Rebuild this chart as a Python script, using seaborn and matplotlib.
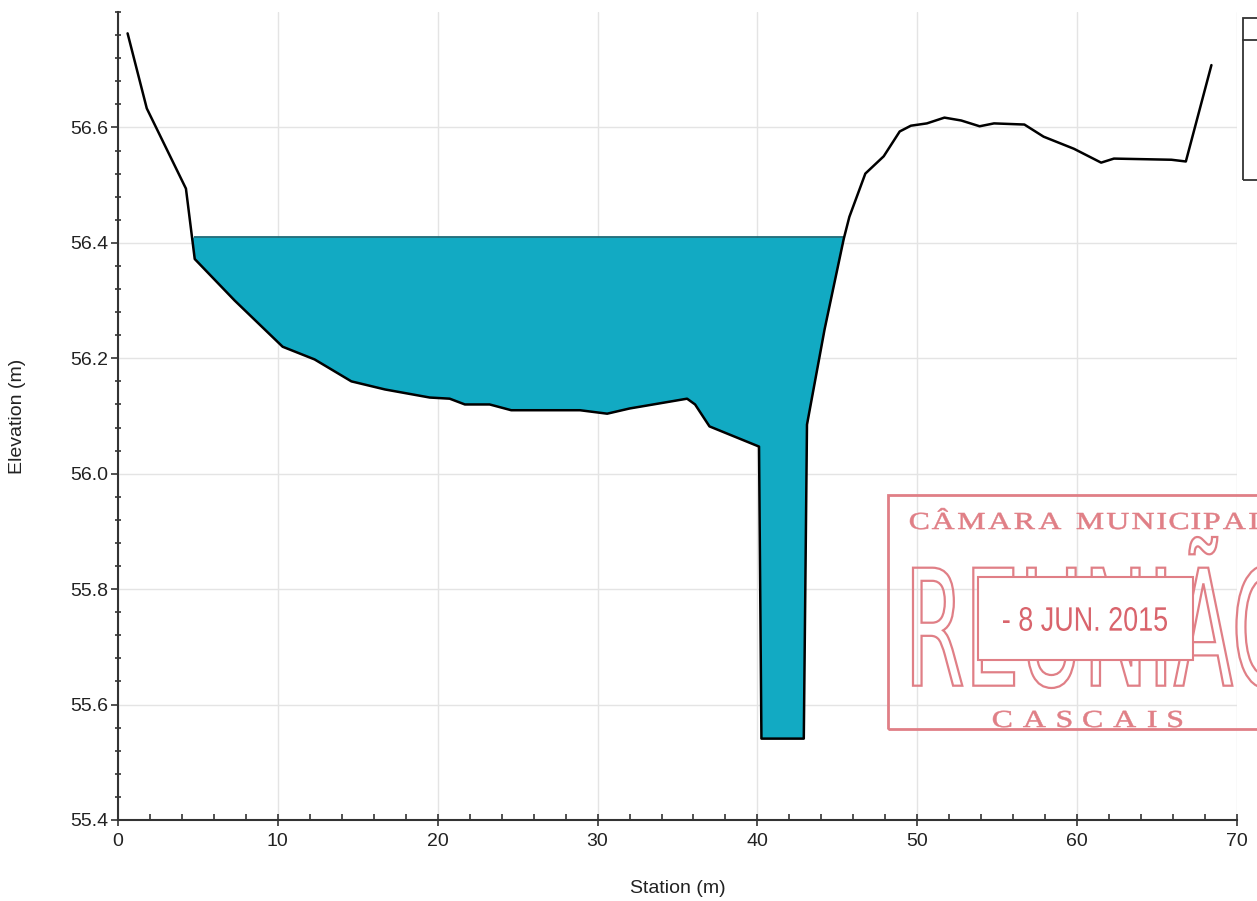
import matplotlib.pyplot as plt
import numpy as np
import pandas as pd
import seaborn as sns
from matplotlib.font_manager import FontProperties
from matplotlib.patches import PathPatch, Rectangle
from matplotlib.textpath import TextPath
from matplotlib.ticker import MultipleLocator
from matplotlib.transforms import Affine2D

# ground profile (station, elevation)
station = [0.6, 1.8, 4.25, 4.8, 7.3, 10.3, 12.3, 14.6, 16.7, 19.5, 20.75, 21.7,
           23.25, 24.6, 28.9, 30.6, 32.0, 35.6, 36.1, 37.0, 40.1, 40.25, 42.9,
           43.1, 44.2, 45.4, 45.75, 46.75, 47.9, 48.9, 49.6, 50.6, 51.7, 52.75,
           53.9, 54.8, 56.7, 57.9, 59.8, 61.5, 62.3, 65.9, 66.8, 68.4]
elevation = [56.763, 56.633, 56.494, 56.372, 56.30, 56.22, 56.198, 56.16, 56.146,
             56.132, 56.13, 56.12, 56.12, 56.11, 56.11, 56.104, 56.113, 56.13,
             56.12, 56.082, 56.047, 55.541, 55.541, 56.085, 56.25, 56.407, 56.445,
             56.52, 56.55, 56.593, 56.603, 56.607, 56.617, 56.612, 56.602, 56.607,
             56.605, 56.584, 56.563, 56.539, 56.546, 56.544, 56.541, 56.708]
water_surface = 56.41
ytick_labels = ["55.4", "55.6", "55.8", "56.0", "56.2", "56.4", "56.6"]

W, H = 1257, 901
df = pd.DataFrame({"Station (m)": station, "Elevation (m)": elevation})

sns.set_theme(style="whitegrid")
plt.rcParams['font.family'] = ['Liberation Sans', 'DejaVu Sans']

fig = plt.figure(figsize=(W / 100, H / 100), dpi=100)
ax = fig.add_axes([118 / W, 1 - 820 / H, 1119 / W, 808 / H])

st = np.array(station)
el = np.array(elevation)
ax.fill_between(st, el, water_surface, where=el <= water_surface, interpolate=True,
                color="#12aac3", linewidth=0, zorder=2)
ax.hlines(water_surface, 4.75, 45.45, color="#0a5e6c", linewidth=1.2, zorder=3)
sns.lineplot(data=df, x="Station (m)", y="Elevation (m)", sort=False,
             color="black", linewidth=1.8, ax=ax, zorder=4)

ax.set_xlim(0, 70)
ax.set_ylim(55.4, 56.8)
ax.xaxis.set_major_locator(MultipleLocator(10))
ax.xaxis.set_minor_locator(MultipleLocator(2))
ax.yaxis.set_minor_locator(MultipleLocator(0.04))
ax.set_yticks([float(v) for v in ytick_labels])
ax.set_yticklabels(ytick_labels)

ax.grid(True, which="major", color="#e4e4e4", linewidth=1)
ax.grid(False, which="minor")
for s in ["top", "right"]:
    ax.spines[s].set_visible(False)
for s in ["left", "bottom"]:
    ax.spines[s].set_color("#333333")
    ax.spines[s].set_linewidth(1.5)

ax.tick_params(axis="x", which="major", direction="inout", length=8, width=1.2,
               colors="#333333", labelsize=14, bottom=True, pad=5)
ax.tick_params(axis="x", which="minor", direction="in", length=4, width=1.2,
               colors="#333333", bottom=True)
ax.tick_params(axis="y", which="major", direction="out", length=5, width=1.2,
               colors="#333333", labelsize=14, left=True, pad=2)
ax.tick_params(axis="y", which="minor", direction="inout", length=5, width=1.2,
               colors="#333333", left=True)
for lab in ax.get_xticklabels() + ax.get_yticklabels():
    lab.set_color("#222222")
ax.set_xlabel("Station (m)", fontsize=14, color="#222222", labelpad=22)
ax.set_ylabel("Elevation (m)", fontsize=14, color="#222222", labelpad=32)

# legend box, cut by the page edge
fig.add_artist(Rectangle((1243 / W, 1 - 180 / H), 0.05, 162 / H,
                         transform=fig.transFigure, fill=False,
                         edgecolor="#333333", linewidth=1.3))
fig.add_artist(plt.Line2D([1243 / W, 1.0], [1 - 40 / H, 1 - 40 / H],
                          transform=fig.transFigure, color="#333333", linewidth=1.3))


def stamp_text(s, left, right, top, bottom, family, color, filled=True, z=5):
    # squeeze a text into a pixel box (top/bottom counted from the top edge)
    tp = TextPath((0, 0), s, size=100, prop=FontProperties(family=family))
    ext = tp.get_extents()
    tr = (Affine2D().translate(-ext.x0, -ext.y0)
          .scale((right - left) / ext.width, (bottom - top) / ext.height)
          .translate(left, H - bottom))
    if filled:
        patch = PathPatch(tp, transform=tr, facecolor=color, edgecolor="none", zorder=z)
    else:
        patch = PathPatch(tp, transform=tr, facecolor="none", edgecolor=color,
                          linewidth=1.6, zorder=z)
    fig.add_artist(patch)


def spaced_text(s, left, right, base, cap, family, color, sx=1.0, z=5):
    # letter-spaced stamp text, caps of height `cap`, baseline at `base`
    prop = FontProperties(family=family)
    k = cap / TextPath((0, 0), "H", size=100, prop=prop).get_extents().height
    glyphs = [None if c == " " else TextPath((0, 0), c, size=100, prop=prop) for c in s]
    widths = [0.5 * cap if g is None else g.get_extents().width * k * sx for g in glyphs]
    gap = (right - left - sum(widths)) / (len(s) - 1)
    x = left
    for g, w in zip(glyphs, widths):
        if g is not None:
            x0 = g.get_extents().x0
            tr = Affine2D().translate(-x0, 0).scale(k * sx, k).translate(x, H - base)
            fig.add_artist(PathPatch(g, transform=tr, facecolor=color,
                                     edgecolor=color, linewidth=0.4, zorder=z))
        x += w + gap


# municipal stamp
red = "#e07f86"
fig.add_artist(Rectangle((888 / W, 1 - 729 / H), 0.3, 234 / H,
                         transform=fig.transFigure, fill=False,
                         edgecolor=red, linewidth=2, zorder=5))
spaced_text("CÂMARA MUNICIPAL", 910, 1266, 529, 16, "Liberation Serif", red, sx=1.3)
stamp_text("REUNIÃO", 913, 1295, 537, 688, "DejaVu Sans", red, filled=False)
fig.add_artist(Rectangle((978 / W, 1 - 660 / H), 215 / W, 83 / H,
                         transform=fig.transFigure, facecolor="white",
                         edgecolor=red, linewidth=1.5, zorder=6))
stamp_text("- 8 JUN. 2015", 1003, 1167, 607, 631, "Liberation Sans", "#d9646c", z=7)
spaced_text("CASCAIS", 993, 1182, 727, 16, "Liberation Serif", red, sx=1.3)

fig.savefig("out.png", dpi=100, facecolor="white")
